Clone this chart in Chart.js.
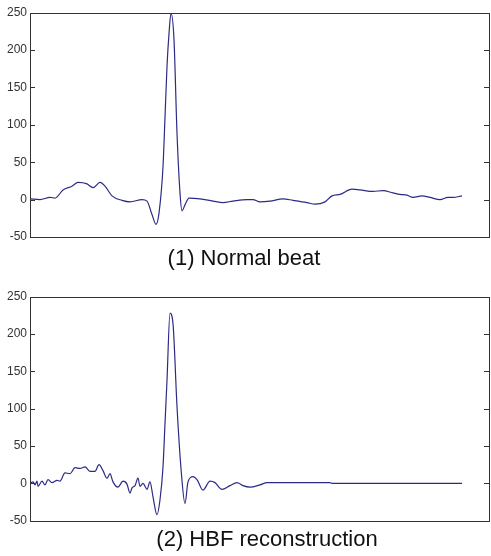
<!DOCTYPE html>
<html>
<head>
<meta charset="utf-8">
<script src="https://cdn.jsdelivr.net/npm/chart.js@4"></script>
<style>
  body { margin: 0; background: #fff; }
  #wrap { position: relative; width: 491px; height: 556px; }
  canvas { position: absolute; left: 0; }
  .cap { position: absolute; font-family: Arial, "Liberation Sans", sans-serif; font-size: 22px; color: #111; white-space: nowrap; transform: translateX(-50%); }
</style>
</head>
<body>
<div id="wrap">
  <div style="position:absolute;left:0;top:0;width:491px;height:278px"><canvas id="beat1"></canvas></div>
  <div style="position:absolute;left:0;top:278px;width:491px;height:278px"><canvas id="beat2"></canvas></div>
  <div class="cap" style="left:244px;top:245px">(1) Normal beat</div>
  <div class="cap" style="left:267px;top:526px">(2) HBF reconstruction</div>
</div>
<script>
// samples
var yTicks = [-50, 0, 50, 100, 150, 200, 250];

var normalX = [0, 10, 20, 25, 33, 42, 48, 57, 63, 70, 75, 82, 92, 100, 112, 117, 122, 126, 129, 133, 135, 137, 139, 141, 144, 147, 150, 152, 155, 159, 170, 183, 193, 203, 217, 223, 230, 240, 253, 263, 277, 285, 295, 302, 310, 322, 330, 343, 353, 363, 370, 377, 383, 392, 400, 410, 418, 423, 432];
var normalY = [1, 0, 3, 2, 13, 18, 23, 21, 16, 23, 18, 5, -1, -3, 0, -2, -20, -33, -18, 44, 110, 178, 222, 249, 214, 89, 9, -15, -7, 2, 1, -2, -4, -2, 0, 0, -3, -2, 1, -1, -4, -6, -3, 5, 7, 14, 13, 11, 12, 9, 7, 6, 3, 5, 3, 0, 3, 3, 5];

var hbfX = [0, 3, 5, 7, 8, 12, 15, 18, 22, 27, 30, 35, 40, 45, 50, 55, 60, 65, 69, 73, 77, 80, 83, 88, 93, 97, 100, 102, 105, 108, 110, 113, 117, 120, 123, 127, 130, 133, 135, 137, 140, 143, 147, 151, 155, 158, 163, 167, 173, 180, 185, 192, 200, 207, 213, 220, 230, 237, 300, 302, 432];
var hbfY = [0, 2, -2, 3, -4, 3, -2, 5, 1, 4, 3, 14, 13, 21, 20, 22, 16, 16, 25, 17, 7, 13, 2, -5, 3, -1, -13, -6, -3, 7, -4, 0, -8, 2, -18, -42, -22, 22, 80, 138, 228, 214, 103, 20, -27, 2, 9, 5, -9, 3, 1, -8, -3, 1, -3, -5, -2, 1, 1, 0, 0];

var lineColor = "#2b2b85";
var frameColor = "#333";

var frame = {
    id: "frame",
    afterDraw: function (chart) {
        var ctx = chart.ctx;
        var a = chart.chartArea;
        var ys = chart.scales.y;
        ctx.save();
        ctx.strokeStyle = frameColor;
        ctx.lineWidth = 1;
        ctx.strokeRect(Math.round(a.left) + 0.5, Math.round(a.top) + 0.5,
            Math.round(a.right - a.left) - 1, Math.round(a.bottom - a.top));
        ctx.beginPath();
        yTicks.forEach(function (v) {
            var p = Math.round(ys.getPixelForValue(v)) + 0.5;
            ctx.moveTo(a.left, p); ctx.lineTo(a.left + 5, p);
            ctx.moveTo(a.right - 6, p); ctx.lineTo(a.right, p);
        });
        ctx.stroke();
        ctx.restore();
    }
};

function beat(id, xs, ys, padTop, padBottom) {
    var pts = xs.map(function (x, i) { return { x: x, y: ys[i] }; });
    new Chart(document.getElementById(id), {
        type: "line",
        data: {
            datasets: [{
                data: pts,
                borderColor: lineColor,
                borderWidth: 1.2,
                pointRadius: 0,
                cubicInterpolationMode: "monotone",
                fill: false
            }]
        },
        options: {
            responsive: true,
            maintainAspectRatio: false,
            animation: false,
            events: [],
            layout: { padding: { top: padTop, bottom: padBottom, left: 0, right: 1 } },
            plugins: { legend: { display: false }, tooltip: { enabled: false } },
            scales: {
                x: { type: "linear", min: 0, max: 460, display: false },
                y: {
                    min: -50, max: 250,
                    afterFit: function (s) { s.width = 30; },
                    afterBuildTicks: function (s) { s.ticks = yTicks.map(function (v) { return { value: v }; }); },
                    grid: { display: false, drawTicks: false },
                    border: { display: false },
                    ticks: {
                        padding: 3,
                        color: "#333",
                        font: { family: "Arial, 'Liberation Sans'", size: 12 }
                    }
                }
            }
        },
        plugins: [frame]
    });
}

beat("beat1", normalX, normalY, 12.7, 41);
beat("beat2", hbfX, hbfY, 18.7, 35.3);
</script>
</body>
</html>
